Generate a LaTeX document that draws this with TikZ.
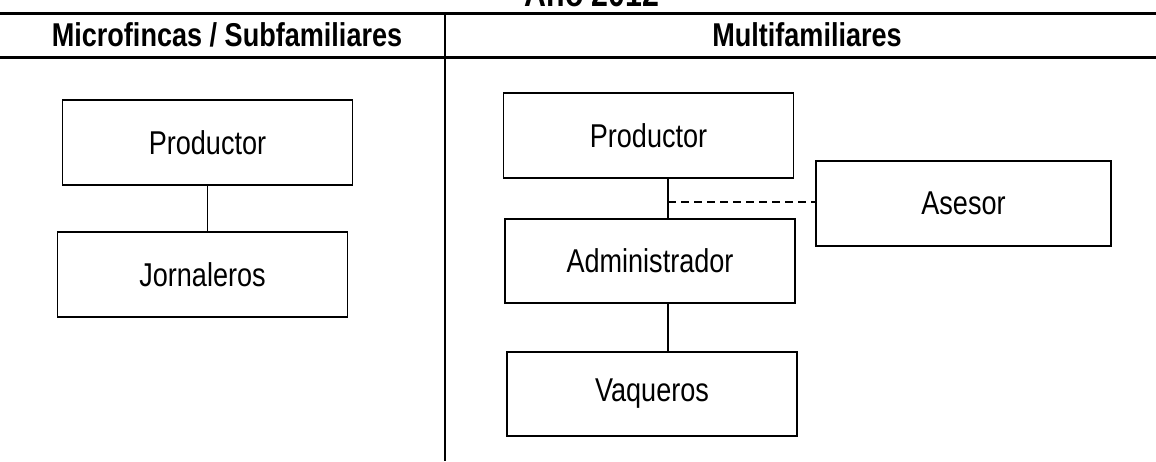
\documentclass[tikz,border=0pt]{standalone}
\usepackage{fontspec}
\setmainfont{Liberation Sans}[FakeStretch=0.82]
\usetikzlibrary{positioning}

\begin{document}
\begin{tikzpicture}[x=1pt, y=-1pt,
    box/.style={rectangle, draw, line width=1.8pt, minimum width=290pt,
    minimum height=85pt, inner sep=0pt, font=\fontsize{33}{40}\selectfont},
    head/.style={anchor=base, font=\bfseries\fontsize{33}{40}\selectfont},
    rule/.style={line width=3pt}]
  \useasboundingbox (0,0) rectangle (1156,461);

  % table head
  \node[head, font=\bfseries\fontsize{37}{44}\selectfont] (year) at (592,6) {Año 2012};
  \node[head] (micro) at (227,46) {Microfincas / Subfamiliares};
  \node[head] (multi) at (807,46) {Multifamiliares};
  \coordinate (topleft) at (0,13);
  \coordinate (topright) at (1156,13);
  \coordinate (midleft) at (0,57);
  \coordinate (midright) at (1156,57);
  \coordinate (colbottom) at (445,461);
  \draw[rule] (topleft) -- (topright);
  \draw[rule] (midleft) -- (midright);
  \draw[line width=2.5pt] (colbottom |- topleft) -- (colbottom);

  % left column
  \node[box] (prod1) at (207.5,142.5) {Productor};
  \node[box] (jorn) at (202.5,274.5) {Jornaleros};
  \draw[line width=1.8pt] (prod1.south) -- (prod1.south |- jorn.north);

  % right column
  \node[box] (prod2) at (648.5,135.5) {Productor};
  \node[box, minimum height=84pt] (admin) at (650,261) {Administrador};
  \node[box, minimum height=84pt] (vaq) at (652,394) {Vaqueros};
  \node[box, minimum width=295pt] (ases) at (963.5,203.5) {Asesor};
  \coordinate (spine) at (668,202);
  \draw[line width=1.8pt] (prod2.south -| spine) -- (admin.north -| spine);
  \draw[line width=1.8pt] (admin.south -| spine) -- (vaq.north -| spine);
  \draw[line width=1.8pt, dash pattern=on 8pt off 5pt] (spine) -- (ases.west |- spine);
\end{tikzpicture}
\end{document}
